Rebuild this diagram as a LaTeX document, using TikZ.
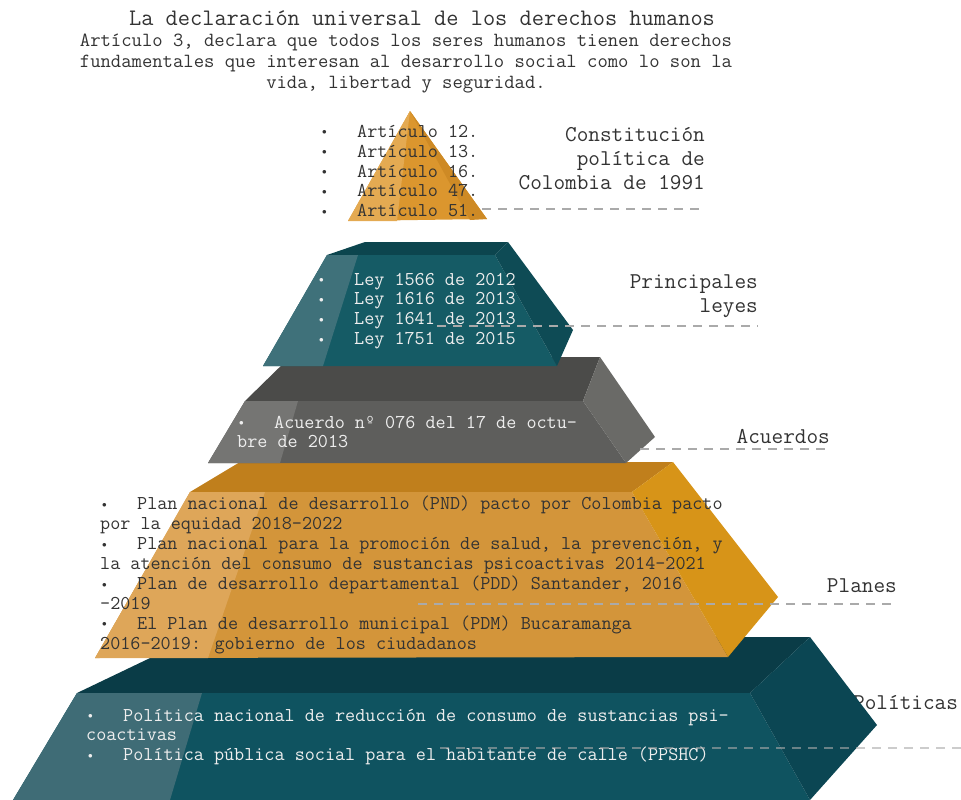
\documentclass[tikz,border=0pt]{standalone}
\usepackage{xcolor}
\usepackage{graphicx}
\usepackage{tikz}
\usetikzlibrary{positioning}

\definecolor{tinta}{HTML}{333333}
\definecolor{claro}{HTML}{EEEEEE}
\definecolor{guia}{HTML}{AAAAAA}
\definecolor{polTop}{RGB}{10,60,71}
\definecolor{polFront}{RGB}{15,83,96}
\definecolor{polLight}{RGB}{63,108,118}
\definecolor{polSide}{RGB}{11,70,83}
\definecolor{plaTop}{RGB}{192,127,28}
\definecolor{plaFront}{RGB}{211,149,58}
\definecolor{plaLight}{RGB}{222,166,89}
\definecolor{plaSide}{RGB}{215,148,24}
\definecolor{acuTop}{RGB}{75,75,73}
\definecolor{acuFront}{RGB}{94,94,92}
\definecolor{acuLight}{RGB}{117,117,115}
\definecolor{acuSide}{RGB}{106,106,103}
\definecolor{leyTop}{RGB}{12,69,78}
\definecolor{leyFront}{RGB}{21,91,101}
\definecolor{leyLight}{RGB}{63,113,122}
\definecolor{leySide}{RGB}{14,75,85}
\definecolor{conMain}{RGB}{219,150,46}
\definecolor{conLight}{RGB}{228,170,82}
\definecolor{conSide}{RGB}{206,138,37}

\newcommand{\punto}{\makebox[37pt][l]{\hspace{2pt}\raisebox{2.5pt}{\fontsize{9}{9}\selectfont$\bullet$}}}
\newcommand{\fcuerpo}{\ttfamily\fontsize{19.6}{19.9}\selectfont}

\begin{document}
\begin{tikzpicture}[x=1pt, y=-1pt,
            face/.style={fill=#1, draw=none},
            lista/.style={anchor=west, align=left, inner sep=0pt, font=\fcuerpo},
            etiqueta/.style={anchor=east, align=right, inner sep=0pt, text=tinta, font=\ttfamily\fontsize{22.6}{24}\selectfont},
            guide/.style={draw=guia, line width=1.4pt, dash pattern=on 9pt off 7pt}
        ]
            \useasboundingbox (0,0) rectangle (961,800);

            \node[inner sep=0pt, text=tinta, font=\ttfamily\fontsize{23.7}{24}\selectfont] (titulo) at (422,18) {La declaración universal de los derechos humanos};
            \node[inner sep=0pt, align=center, text=tinta, font=\ttfamily\fontsize{20.1}{21}\selectfont] (articulo) at (406,63.5) {Artículo 3, declara que todos los seres humanos tienen derechos\\fundamentales que interesan al desarrollo social como lo son la\\vida, libertad y seguridad.};

            \node[etiqueta, anchor=west] (politicas) at (853,703) {Políticas};

            % politicas
            \fill[face=polTop] (77,693) -- (194,637) -- (810,637) -- (750,693) -- cycle;
            \fill[face=polFront] (77,693) -- (750,693) -- (810,800) -- (13,800) -- cycle;
            \fill[face=polLight] (77,693) -- (202,693) -- (170,800) -- (13,800) -- cycle;
            \fill[face=polSide] (750,693) -- (810,637) -- (877,725) -- (810,800) -- cycle;

            % planes
            \fill[face=plaTop] (190,492) -- (240,462) -- (673,462) -- (632,492) -- cycle;
            \fill[face=plaFront] (190,492) -- (632,492) -- (728,657) -- (95,658) -- cycle;
            \fill[face=plaLight] (190,492) -- (265,492) -- (208,658) -- (95,658) -- cycle;
            \fill[face=plaSide] (632,492) -- (673,462) -- (778,597) -- (728,657) -- cycle;

            % acuerdos
            \fill[face=acuTop] (245,401) -- (290,357) -- (600,357) -- (583,401) -- cycle;
            \fill[face=acuFront] (245,401) -- (583,401) -- (626,463) -- (208,463) -- cycle;
            \fill[face=acuLight] (245,401) -- (298,401) -- (280,463) -- (208,463) -- cycle;
            \fill[face=acuSide] (583,401) -- (600,357) -- (655,437) -- (626,463) -- cycle;

            % leyes
            \fill[face=leyTop] (327,255) -- (365,242) -- (508,242) -- (495,255) -- cycle;
            \fill[face=leyFront] (327,255) -- (495,255) -- (557,366) -- (263,366) -- cycle;
            \fill[face=leyLight] (327,255) -- (358,255) -- (323,366) -- (263,366) -- cycle;
            \fill[face=leySide] (495,255) -- (508,242) -- (573,330) -- (557,366) -- cycle;

            % constitucion
            \fill[face=conMain] (410,111) -- (348,221) -- (487,219) -- cycle;
            \fill[face=conLight] (410,111) -- (348,221) -- (397,221) -- cycle;
            \fill[face=conSide] (410,111) -- (470,220) -- (487,219) -- cycle;

            \node[lista, text=tinta] (articulos) at (320,171) {\punto Artículo 12.\\\punto Artículo 13.\\\punto Artículo 16.\\\punto Artículo 47.\\\punto Artículo 51.};
            \node[lista, text=claro] (leyes) at (317,311) {\punto Ley 1566 de 2012\\\punto Ley 1616 de 2013\\\punto Ley 1641 de 2013\\\punto Ley 1751 de 2015};
            \node[lista, text=claro] (acuerdo) at (237,432) {\punto Acuerdo nº 076 del 17 de octu-\\bre de 2013};
            \node[lista, text=tinta] (planes) at (100,575) {\punto Plan nacional de desarrollo (PND) pacto por Colombia pacto\\por la equidad 2018-2022\\\punto Plan nacional para la promoción de salud, la prevención, y\\la atención del consumo de sustancias psicoactivas 2014-2021\\\punto Plan de desarrollo departamental (PDD) Santander, 2016\\-2019\\\punto El Plan de desarrollo municipal (PDM) Bucaramanga\\2016-2019: gobierno de los ciudadanos};
            \node[lista, text=claro] (politicasdet) at (86,737) {\punto Política nacional de reducción de consumo de sustancias psi-\\coactivas\\\punto Política pública social para el habitante de calle (PPSHC)};

            \node[etiqueta] (constitucion) at (705,159) {Constitución\\política de\\Colombia de 1991};
            \node[etiqueta] (principales) at (758,296) {Principales\\leyes};
            \node[etiqueta] (acuerdos) at (830,437) {Acuerdos};
            \node[etiqueta] (planeslbl) at (897,586) {Planes};

            \coordinate (g1) at (482,209);
            \coordinate (g2) at (437,326);
            \coordinate (g3) at (640,449);
            \coordinate (g4) at (418,604);
            \coordinate (g5) at (440,748);
            \draw[guide] (g1) -- (constitucion.south east |- g1);
            \draw[guide] (g2) -- (principales.south east |- g2);
            \draw[guide] (g3) -- (acuerdos.south east |- g3);
            \draw[guide] (g4) -- (planeslbl.south east |- g4);
            \draw[guide, draw opacity=0.6] (g5) -- (961,748);
        \end{tikzpicture}
\end{document}
